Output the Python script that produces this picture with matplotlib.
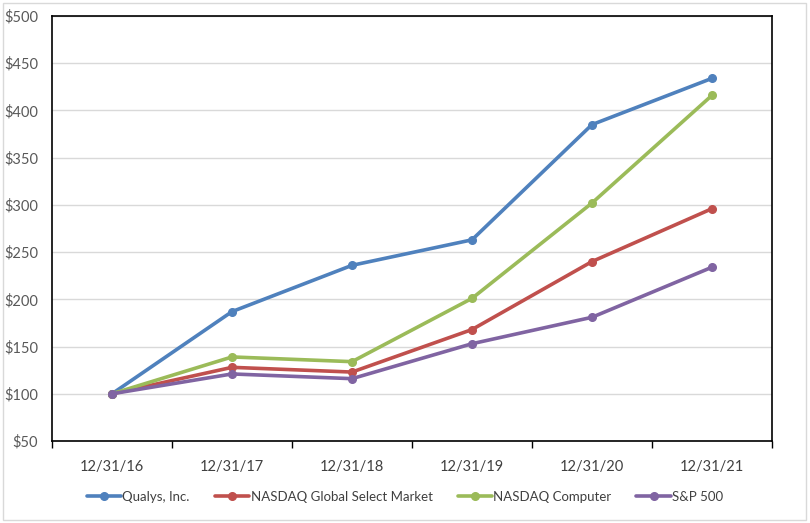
import matplotlib
matplotlib.use("Agg")
import matplotlib.pyplot as plt
from matplotlib.patches import Rectangle

categories = ["12/31/16", "12/31/17", "12/31/18", "12/31/19", "12/31/20", "12/31/21"]
qualys = [100, 187, 236, 263, 385, 434]
nasdaq_gsm = [100, 128, 123, 168, 240, 296]
nasdaq_comp = [100, 139, 134, 201, 302, 416]
sp500 = [100, 121, 116, 153, 181, 234]
series_names = ["Qualys, Inc.", "NASDAQ Global Select Market", "NASDAQ Computer", "S&P 500"]
colors = ["#4F81BD", "#C0504D", "#9BBB59", "#8064A2"]
yticks = list(range(50, 501, 50))

plt.rcParams['font.family'] = ['Lato', 'DejaVu Sans']
W, H = 810, 523
fig = plt.figure(figsize=(W/100, H/100), dpi=100)
ax = fig.add_axes([52/W, 1-441/H, (772-52)/W, (441-16)/H])

x = list(range(len(categories)))
for vals, name, c in zip([qualys, nasdaq_gsm, nasdaq_comp, sp500], series_names, colors):
    ax.plot(x, vals, color=c, lw=2.6, marker='o', ms=5.5, label=name, solid_capstyle='round')

ax.set_xlim(-0.5, len(categories) - 0.5)
ax.set_ylim(50, 500)
ax.set_yticks(yticks)
ax.set_yticklabels([f"${v}" for v in yticks])
ax.set_xticks(x)
ax.set_xticklabels(categories)
ax.set_xticks([i - 0.5 for i in range(len(categories) + 1)], minor=True)
ax.tick_params(axis='x', which='major', length=0, pad=14, labelsize=10.5, labelcolor='#404040')
ax.tick_params(axis='x', which='minor', length=5, color='black', width=1)
ax.tick_params(axis='y', length=0, pad=10, labelsize=10.5, labelcolor='#595959')
ax.grid(axis='y', color='#D9D9D9', lw=1)
ax.set_axisbelow(True)
for s in ax.spines.values():
    s.set_color('black')
    s.set_linewidth(1.2)

leg = fig.legend(loc='center', bbox_to_anchor=(0.5, 1-497/H), ncol=4, frameon=False,
                 fontsize=9.5, handlelength=2.6, handletextpad=0.1, columnspacing=1.9,
                 labelcolor='#404040')

fig.patches.append(Rectangle((3/W, 3/H), (806-3)/W, (520-3)/H, transform=fig.transFigure,
                             fill=False, edgecolor='#D9D9D9', lw=1))

fig.savefig("out.png", dpi=100)
